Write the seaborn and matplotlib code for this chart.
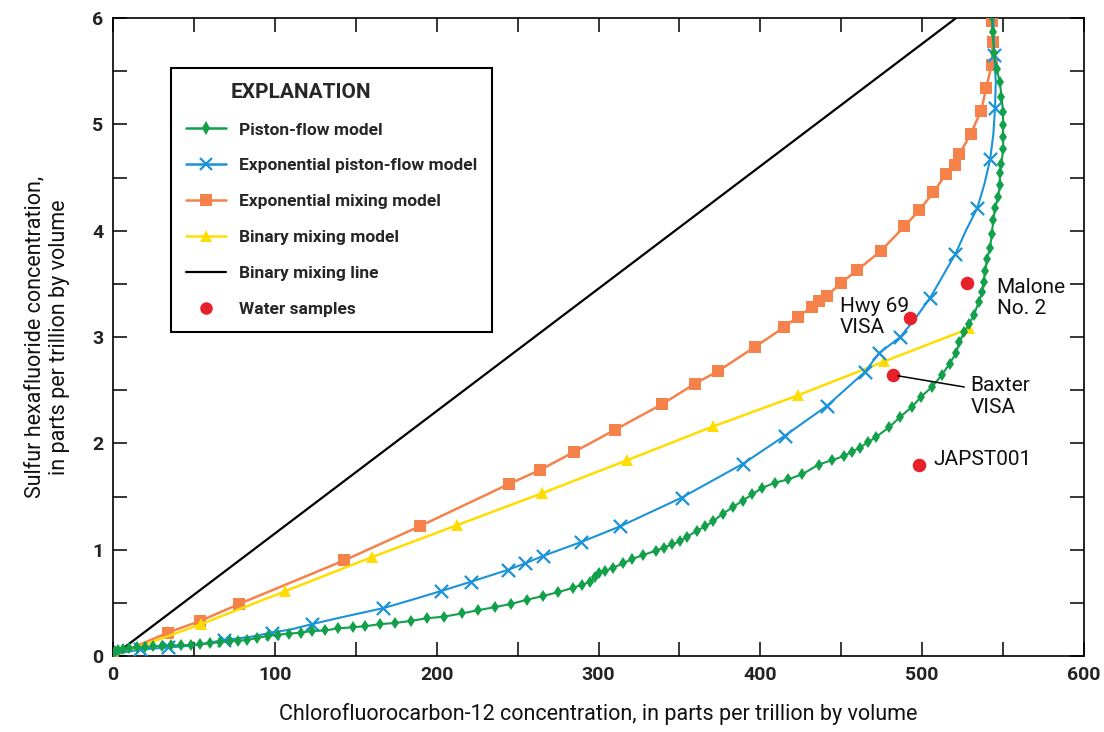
import matplotlib
matplotlib.use("Agg")
import matplotlib.pyplot as plt
from matplotlib.lines import Line2D
from matplotlib.ticker import MultipleLocator
import seaborn as sns

# --- Model curves: CFC-12 (pptv) vs SF6 (pptv) ---
piston_cfc = [0, 1, 3, 6, 10, 15, 20, 25, 30, 36, 42, 48, 54, 60, 66, 72, 77, 83, 89, 96,
              102, 109, 116, 123, 131, 139, 148, 156, 165, 174, 184, 194, 204.5, 215.5, 225.5,
              236, 246, 256, 266, 275, 284, 290, 295, 298, 300, 304, 309, 315, 320.5, 327.5,
              335.5, 340.5, 345.5, 350.5, 354.5, 361, 366, 371, 377, 383, 389, 395, 401, 409,
              417, 426, 436, 444, 451.5, 456.5, 461.5, 466.5, 471.5, 479.5, 486.5, 493.5,
              499.5, 506, 512, 517, 521, 523, 526, 529, 532, 535, 537, 538, 539, 540, 542,
              543, 544, 545, 547, 548, 548, 549, 550, 550, 550, 550, 549, 548, 546, 544.5,
              543.5, 543]
piston_sf6 = [0.02, 0.05, 0.06, 0.07, 0.075, 0.08, 0.085, 0.09, 0.095, 0.10, 0.10, 0.105,
              0.11, 0.12, 0.13, 0.14, 0.145, 0.15, 0.17, 0.19, 0.20, 0.21, 0.22, 0.235, 0.24,
              0.26, 0.27, 0.28, 0.30, 0.31, 0.33, 0.355, 0.37, 0.40, 0.43, 0.46, 0.49, 0.53,
              0.565, 0.60, 0.64, 0.67, 0.70, 0.74, 0.78, 0.80, 0.83, 0.87, 0.91, 0.95, 0.99,
              1.02, 1.05, 1.08, 1.12, 1.18, 1.22, 1.27, 1.34, 1.40, 1.46, 1.52, 1.58, 1.63,
              1.66, 1.71, 1.80, 1.84, 1.88, 1.92, 1.96, 2.01, 2.06, 2.15, 2.25, 2.34, 2.44,
              2.53, 2.64, 2.75, 2.85, 2.95, 3.05, 3.12, 3.21, 3.33, 3.42, 3.52, 3.62, 3.73,
              3.84, 3.97, 4.10, 4.21, 4.32, 4.43, 4.54, 4.63, 4.77, 4.88, 4.99, 5.12, 5.26,
              5.40, 5.52, 5.67, 5.87, 6.01]

# exponential piston-flow model: smooth curve and its labelled model points
epm_line_cfc = [0, 5, 16.5, 25, 34, 50, 68.5, 85, 98, 110, 123, 140, 167, 185, 202.5, 221.5,
                244, 254.5, 265.5, 289, 313.5, 351.5, 389.5, 415, 441, 464.5, 473.5, 486.5,
                496, 505, 520.5, 527, 534, 538.5, 542, 544, 545, 545.5, 544.5, 544]
epm_line_sf6 = [0, 0.03, 0.06, 0.07, 0.08, 0.10, 0.15, 0.18, 0.22, 0.25, 0.30, 0.36, 0.45,
                0.53, 0.61, 0.70, 0.81, 0.87, 0.94, 1.07, 1.22, 1.49, 1.81, 2.07, 2.35, 2.67,
                2.85, 3.00, 3.18, 3.37, 3.78, 4.00, 4.21, 4.44, 4.67, 4.91, 5.15, 5.40, 5.65,
                5.98]
epm_pts_cfc = [0, 16.5, 34, 68.5, 98, 123, 167, 202.5, 221.5, 244, 254.5, 265.5, 289, 313.5,
               351.5, 389.5, 415, 441, 464.5, 473.5, 486.5, 505, 520.5, 534, 542, 545, 544.5]
epm_pts_sf6 = [0, 0.07, 0.08, 0.15, 0.22, 0.30, 0.45, 0.61, 0.70, 0.81, 0.87, 0.94, 1.07,
               1.22, 1.49, 1.81, 2.07, 2.35, 2.67, 2.85, 3.00, 3.37, 3.78, 4.21, 4.67, 5.15,
               5.65]

em_cfc = [0, 34, 54, 78, 143, 189.5, 245, 264, 285, 310.5, 339.5, 359.5, 374, 397, 414.5,
          423, 432, 436.5, 441.5, 450, 460, 474.5, 489, 498, 507, 514.5, 520, 523, 530,
          536.5, 539.5, 543, 543.5, 543]
em_sf6 = [0, 0.22, 0.33, 0.49, 0.90, 1.22, 1.62, 1.75, 1.92, 2.13, 2.37, 2.56, 2.68, 2.91,
          3.09, 3.19, 3.28, 3.34, 3.39, 3.51, 3.63, 3.81, 4.04, 4.19, 4.36, 4.53, 4.62, 4.72,
          4.91, 5.13, 5.34, 5.56, 5.77, 5.97]

bmm_cfc = [0, 54.5, 106.5, 160, 212.5, 265, 317.5, 371, 423, 476.5, 529]
bmm_sf6 = [0, 0.30, 0.61, 0.93, 1.23, 1.53, 1.84, 2.16, 2.45, 2.77, 3.08]

bml_cfc = [0, 521]
bml_sf6 = [0, 6]

# --- Water samples ---
sample_names = ["Malone\nNo. 2", "Hwy 69\nVISA", "Baxter\nVISA", "JAPST001"]
sample_cfc = [528, 492.5, 482, 498]
sample_sf6 = [3.51, 3.18, 2.64, 1.80]

C_GREEN = "#12a04a"
C_BLUE = "#1a93d8"
C_ORANGE = "#f4824a"
C_YELLOW = "#ffdd00"
C_RED = "#e8202a"

sns.set_theme(style="ticks")
plt.rcParams["font.family"] = ["Roboto", "DejaVu Sans"]

fig = plt.figure(figsize=(11.04, 7.32), dpi=100)
ax = fig.add_axes([113 / 1104, (732 - 656) / 732, 971 / 1104, 638 / 732])

sns.lineplot(x=bml_cfc, y=bml_sf6, ax=ax, color="black", lw=1.6, sort=False,
             estimator=None, zorder=2)
sns.lineplot(x=em_cfc, y=em_sf6, ax=ax, color=C_ORANGE, lw=1.8, sort=False,
             estimator=None, marker="s", markersize=8, markeredgewidth=0, zorder=3)
sns.lineplot(x=bmm_cfc, y=bmm_sf6, ax=ax, color=C_YELLOW, lw=1.8, sort=False,
             estimator=None, marker="^", markersize=9, markeredgewidth=0, zorder=3)
sns.lineplot(x=epm_line_cfc, y=epm_line_sf6, ax=ax, color=C_BLUE, lw=1.5, sort=False,
             estimator=None, zorder=4)
sns.scatterplot(x=epm_pts_cfc, y=epm_pts_sf6, ax=ax, color=C_BLUE, marker="x", s=90,
                linewidth=1.6, zorder=4)
sns.lineplot(x=piston_cfc, y=piston_sf6, ax=ax, color=C_GREEN, lw=1.5, sort=False,
             estimator=None, marker="d", markersize=6.5, markeredgewidth=0, zorder=5)
sns.scatterplot(x=sample_cfc, y=sample_sf6, ax=ax, color=C_RED, s=95, linewidth=0,
                zorder=6)

# sample labels
lab_kw = dict(fontsize=15, color="#111111", va="center", ha="left", linespacing=1.15)
ax.text(546, 3.37, sample_names[0], **lab_kw)
ax.text(449, 3.19, sample_names[1], **lab_kw)
ax.text(530, 2.44, sample_names[2], **lab_kw)
ax.text(507, 1.85, sample_names[3], **lab_kw)
ax.plot([485, 526], [2.635, 2.53], color="black", lw=1.1, zorder=6)

ax.set_xlim(0, 600)
ax.set_ylim(0, 6)
ax.xaxis.set_major_locator(MultipleLocator(100))
ax.xaxis.set_minor_locator(MultipleLocator(50))
ax.yaxis.set_major_locator(MultipleLocator(1))
ax.yaxis.set_minor_locator(MultipleLocator(0.5))
ax.tick_params(which="both", direction="in", length=10, width=1.1, color="black",
               top=True, right=True)
ax.tick_params(which="major", labelsize=14, pad=7)
for lbl in ax.get_xticklabels() + ax.get_yticklabels():
    lbl.set_fontweight("bold")
    lbl.set_color("#222222")
for s in ax.spines.values():
    s.set_linewidth(1.2)
    s.set_color("black")

ax.set_xlabel("Chlorofluorocarbon-12 concentration, in parts per trillion by volume",
              fontsize=15.5, labelpad=14, color="#111111")
ax.set_ylabel("Sulfur hexafluoride concentration,\nin parts per trillion by volume",
              fontsize=15.5, labelpad=16, linespacing=1.2, color="#111111")

handles = [
    Line2D([], [], color=C_GREEN, lw=1.8, marker="d", markersize=7, markeredgewidth=0),
    Line2D([], [], color=C_BLUE, lw=1.8, marker="x", markersize=9, markeredgewidth=1.6),
    Line2D([], [], color=C_ORANGE, lw=1.8, marker="s", markersize=8, markeredgewidth=0),
    Line2D([], [], color=C_YELLOW, lw=1.8, marker="^", markersize=9, markeredgewidth=0),
    Line2D([], [], color="black", lw=1.6),
    Line2D([], [], color=C_RED, lw=0, marker="o", markersize=9, markeredgewidth=0),
]
labels = ["Piston-flow model", "Exponential piston-flow model", "Exponential mixing model",
          "Binary mixing model", "Binary mixing line", "Water samples"]
leg = ax.legend(handles, labels, title="EXPLANATION", loc="upper left",
                bbox_to_anchor=(0.060, 0.922), borderaxespad=0, frameon=True,
                fancybox=False, edgecolor="black", framealpha=1, handlelength=2.3,
                handletextpad=0.75, labelspacing=1.2, borderpad=0.85,
                prop={"weight": "bold", "size": 12.5})
leg.get_frame().set_linewidth(1.5)
leg.get_title().set_fontweight("bold")
leg.get_title().set_fontsize(15)
leg._legend_box.align = "left"
leg.get_title().set_position((45, 0))

fig.savefig("out.png", dpi=100)
